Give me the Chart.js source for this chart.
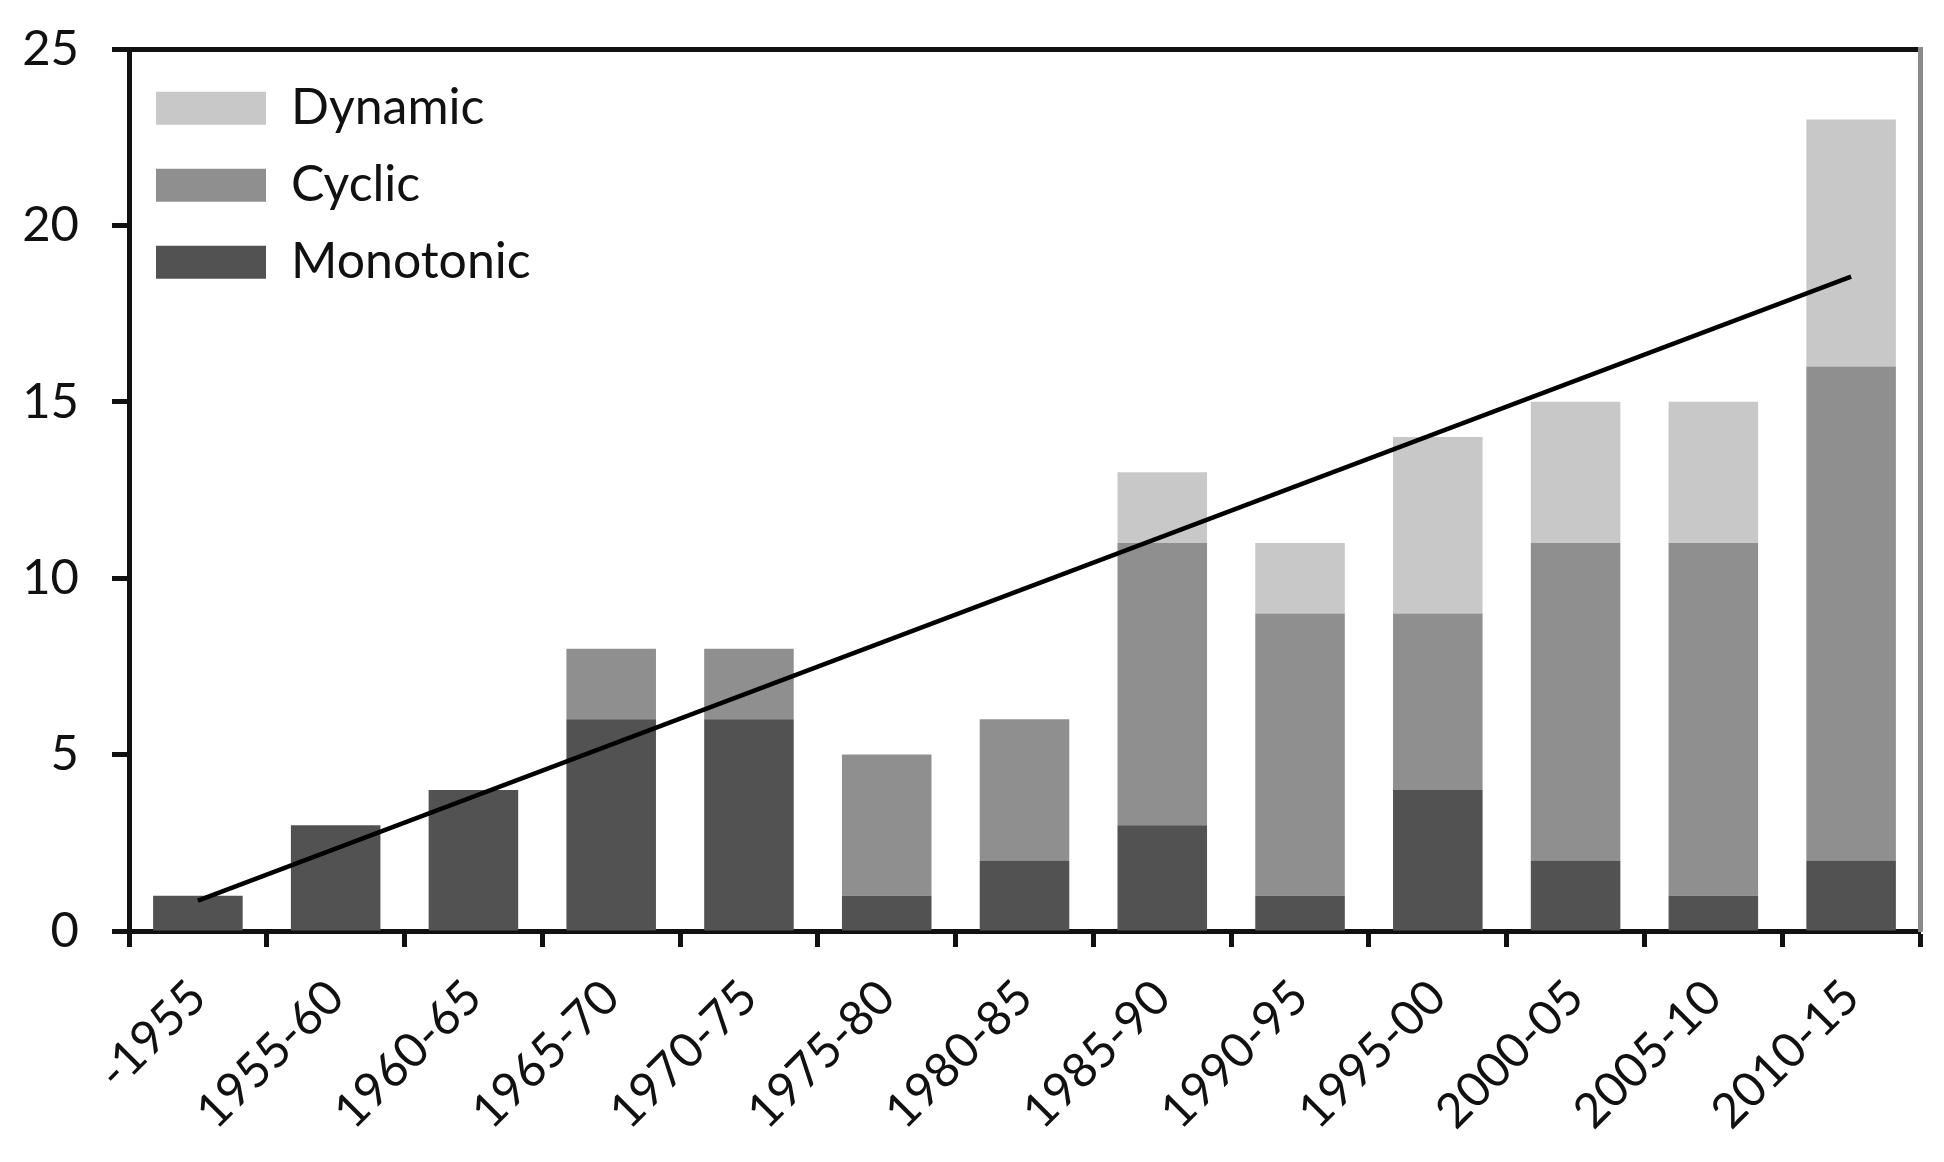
<!DOCTYPE html>
<html>
<head>
<meta charset="utf-8">
<script src="https://cdn.jsdelivr.net/npm/chart.js@4.4.1/dist/chart.umd.min.js"></script>
<style>
  html, body { margin: 0; padding: 0; background: #ffffff; }
  #wrap { width: 1944px; height: 1162px; }
</style>
</head>
<body>
<div id="wrap"><canvas id="c" width="1944" height="1162"></canvas></div>
<script>
const categories = ["-1955","1955-60","1960-65","1965-70","1970-75","1975-80","1980-85","1985-90","1990-95","1995-00","2000-05","2005-10","2010-15"];
const monotonic = [1, 3, 4, 6, 6, 1, 2, 3, 1, 4, 2, 1, 2];
const cyclic    = [0, 0, 0, 2, 2, 4, 4, 8, 8, 5, 9, 10, 14];
const dynamic   = [0, 0, 0, 0, 0, 0, 0, 2, 2, 5, 4, 4, 7];
const trend     = [0.86, null, null, null, null, null, null, null, null, null, null, null, 18.55];
const yTicks    = [0, 5, 10, 15, 20, 25];

const FONT = "Lato, 'Open Sans', sans-serif";

new Chart(document.getElementById('c'), {
  data: {
    labels: categories,
    datasets: [
      { type: 'line', label: 'Trend', data: trend, stack: 'trend', spanGaps: true,
        borderColor: '#000000', borderWidth: 4.5, pointRadius: 0, fill: false, order: 0 },
      { type: 'bar', label: 'Monotonic', data: monotonic, stack: 'a', backgroundColor: '#525252', order: 1 },
      { type: 'bar', label: 'Cyclic', data: cyclic, stack: 'a', backgroundColor: '#8f8f8f', order: 1 },
      { type: 'bar', label: 'Dynamic', data: dynamic, stack: 'a', backgroundColor: '#c8c8c8', order: 1 }
    ]
  },
  options: {
    responsive: false,
    animation: false,
    layout: { padding: 0 },
    datasets: { bar: { barPercentage: 0.65, categoryPercentage: 1.0 } },
    plugins: {
      tooltip: { enabled: false },
      legend: {
        position: 'chartArea',
        align: 'start',
        reverse: true,
        title: { display: true, text: ' ', font: { size: 1 }, padding: { top: 55, bottom: 0 } },
        labels: {
          filter: (item) => item.text !== 'Trend',
          boxWidth: 110,
          boxHeight: 33,
          padding: 27,
          color: '#111111',
          font: { family: FONT, size: 50 }
        }
      }
    },
    scales: {
      x: {
        type: 'category',
        position: 'bottom',
        stacked: true,
        offset: true,
        border: { display: true, color: '#111111', width: 5 },
        grid: { offset: true, drawOnChartArea: false, drawTicks: true, tickLength: 16, tickWidth: 5, tickColor: '#111111', color: '#111111' },
        ticks: { minRotation: 45, maxRotation: 45, color: '#111111', padding: 22, font: { family: FONT, size: 48 } },
        afterFit: (s) => { s.height = 231; s.paddingLeft = 0; s.paddingRight = 0; }
      },
      y: {
        type: 'linear',
        position: 'left',
        stacked: true,
        min: 0,
        max: 25,
        border: { display: true, color: '#111111', width: 5 },
        grid: { drawOnChartArea: false, drawTicks: true, tickLength: 17, tickWidth: 5, tickColor: '#111111', color: '#111111' },
        afterBuildTicks: (s) => { s.ticks = yTicks.map(v => ({ value: v })); },
        ticks: { color: '#111111', padding: 33, font: { family: FONT, size: 49 } },
        afterFit: (s) => { s.width = 129; s.paddingTop = 0; s.paddingBottom = 0; }
      },
      xTop: {
        type: 'linear',
        position: 'top',
        display: true,
        border: { display: true, color: '#111111', width: 5 },
        grid: { display: false },
        ticks: { display: false },
        afterFit: (s) => { s.height = 49; s.paddingLeft = 0; s.paddingRight = 0; }
      },
      yRight: {
        type: 'linear',
        position: 'right',
        display: true,
        border: { display: true, color: '#8a8a8a', width: 5 },
        grid: { display: false },
        ticks: { display: false },
        afterFit: (s) => { s.width = 24; s.paddingTop = 0; s.paddingBottom = 0; }
      }
    }
  }
});
</script>
</body>
</html>
